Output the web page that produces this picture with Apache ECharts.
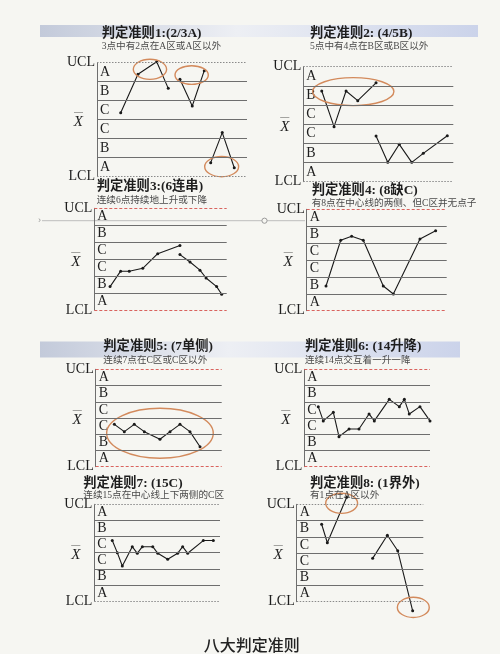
<!DOCTYPE html>
<html><head><meta charset="utf-8">
<script src="https://cdn.jsdelivr.net/npm/echarts@6/dist/echarts.min.js"></script>
<style>html,body{margin:0;padding:0;background:#f6f6f2;}#c{width:500px;height:654px;}</style>
</head><body><div id="c"></div>
<script>
// ---- data ----
const zoneNames = ['A', 'B', 'C', 'C', 'B', 'A'];           // bands from top (UCL) to bottom (LCL)
const zoneBounds = [3, 2, 1, 0, -1, -2, -3];                 // sigma boundaries
const limitTicks = { '3': 'UCL', '0': 'XBAR', '-3': 'LCL' };
const titles = ['判定准则1:(2/3A)', '判定准则2: (4/5B)', '判定准则3:(6连串)', '判定准则4: (8缺C)',
  '判定准则5: (7单侧)', '判定准则6: (14升降)', '判定准则7: (15C)', '判定准则8: (1界外)'];
const subtitles = ['3点中有2点在A区或A区以外', '5点中有4点在B区或B区以外', '连续6点持续地上升或下降',
  '有8点在中心线的两侧、但C区并无点子', '连续7点在C区或C区以外', '连续14点交互着一升一降',
  '连续15点在中心线上下两侧的C区', '有1点在A区以外'];
const footer = '八大判定准则';

// series values: [sample position, sigma] per segment
const rule1 = [[[1.58, 0.37], [2.73, 2.39], [3.98, 3.05], [4.75, 1.65]],
  [[5.53, 2.13], [6.35, 0.72], [7.15, 2.58]],
  [[7.58, -2.26], [8.35, -0.68], [9.15, -2.53]]];
const rule2 = [[[1.23, 1.73], [2.05, -0.13], [2.85, 1.73], [3.63, 1.23], [4.85, 2.16]],
  [[4.85, -0.62], [5.63, -1.99], [6.4, -1.05], [7.23, -1.99], [8.0, -1.52], [9.6, -0.6]]];
const rule3 = [[[1.19, -1.62], [1.99, -0.71], [2.64, -0.71], [3.66, -0.54], [4.79, 0.32], [6.47, 0.8]],
  [[6.47, 0.27], [7.23, -0.17], [7.98, -0.65], [8.44, -1.11], [9.24, -1.62], [9.62, -2.07]]];
const rule4 = [[[1.38, -1.54], [2.43, 1.17], [3.21, 1.4], [4.04, 1.17], [5.47, -1.54], [6.19, -2.01], [8.09, 1.24], [9.21, 1.73]]];
const rule5 = [[[1.48, -0.39], [2.27, -0.84], [3.06, -0.39], [3.86, -0.84], [5.1, -1.31], [5.9, -0.84], [6.69, -0.39], [7.48, -0.84], [8.28, -1.77]]];
const rule6 = [[[1.11, 0.7], [1.51, -0.18], [2.31, 0.35], [2.76, -1.15], [3.56, -0.68], [4.35, -0.68], [5.15, 0.25],
  [5.57, -0.18], [6.76, 1.15], [7.56, 0.7], [7.96, 1.15], [8.35, 0.25], [9.2, 0.7], [10, -0.18]]];
const rule7 = [[[1.43, 0.75], [1.83, 0], [2.23, -0.83], [3.02, 0.37], [3.42, -0.04], [3.82, 0.37], [4.65, 0.37],
  [5.05, -0.04], [5.84, -0.41], [6.63, -0.04], [7.03, 0.37], [7.43, -0.04], [8.67, 0.75], [9.47, 0.75]]];
const rule8 = [[[1.97, 1.77], [2.42, 0.63], [3.95, 3.43]],
  [[6.0, -0.33], [7.16, 1.09], [7.98, 0.14], [9.16, -3.56]]];
const allRules = [rule1, rule2, rule3, rule4, rule5, rule6, rule7, rule8];

// highlighted groups: [center x, center sigma, radius x, radius sigma]
const circles = [
  [[3.53, 2.65, 1.11, 0.53], [6.31, 2.35, 1.11, 0.49], [8.31, -2.47, 1.13, 0.53]],
  [[3.33, 1.70, 2.71, 0.73]],
  [], [],
  [[5.10, -0.94, 4.23, 1.54]],
  [], [],
  [[3.55, 3.06, 1.26, 0.62], [9.21, -3.35, 1.26, 0.62]]
];

// ---- layout (px) ----
const grids = [
  [97, 62.7, 150, 114], [303.3, 66.7, 150, 115],
  [94.3, 208.3, 132.4, 101.7], [306.7, 209.3, 140, 101.4],
  [95.7, 369.3, 126, 97.4], [304.3, 369.3, 125.7, 97.4],
  [94.3, 504.3, 125.7, 96.7], [296.7, 504.3, 126.6, 97.4]
];
const limitRed = [false, false, true, true, true, true, false, false];
const titlePos = [[101.7, 34, 46.7], [310, 34, 46.7], [96.7, 186.7, 200.7], [311.7, 191, 203.3],
  [103.3, 346.7, 360], [305, 346.7, 360], [83.3, 484, 495], [310, 483.3, 495]];

const serif = "'Liberation Serif', 'Times New Roman', serif";
const titleFont = "'Liberation Serif', 'Noto Sans CJK SC', serif";

const option = {
  backgroundColor: '#f6f6f2',
  animation: false,
  grid: [], xAxis: [], yAxis: [], series: [],
  graphic: []
};

// header bands and decoration
option.graphic.push({ type: 'rect', z: 0, shape: { x: 40, y: 25, width: 438, height: 12 },
  style: { fill: new echarts.graphic.LinearGradient(0, 0, 1, 0, [{ offset: 0, color: '#c3cada' }, { offset: 0.45, color: '#edeff4' }, { offset: 1, color: '#cbd3ea' }]) } });
option.graphic.push({ type: 'rect', z: 0, shape: { x: 40, y: 341.5, width: 420, height: 16 },
  style: { fill: new echarts.graphic.LinearGradient(0, 0, 1, 0, [{ offset: 0, color: '#c3cada' }, { offset: 0.45, color: '#edeff4' }, { offset: 1, color: '#cbd3ea' }]) } });
option.graphic.push({ type: 'line', z: 0, shape: { x1: 42, y1: 220.7, x2: 305, y2: 220.7 }, style: { stroke: '#bdbdbd', lineWidth: 1 } });
option.graphic.push({ type: 'circle', z: 1, shape: { cx: 264.5, cy: 220.7, r: 2.6 }, style: { fill: '#f6f6f2', stroke: '#9a9a9a', lineWidth: 1 } });
option.graphic.push({ type: 'text', z: 1, x: 38, y: 220.7, style: { text: '›', fill: '#999', font: '9px sans-serif', textVerticalAlign: 'middle' } });

grids.forEach((g, i) => {
  option.grid.push({ left: g[0], top: g[1], width: g[2], height: g[3] });
  option.xAxis.push({ type: 'value', gridIndex: i, min: 0, max: 10, show: false });
  option.yAxis.push({
    type: 'value', gridIndex: i, min: -3, max: 3, interval: 1,
    axisLine: { show: true, lineStyle: { color: '#6e6e6e', width: 1 } },
    axisTick: { show: false }, splitLine: { show: false },
    axisLabel: {
      margin: 2, color: '#1e1e1e', fontFamily: serif, fontSize: 14,
      formatter: v => {
        const t = limitTicks[String(v)];
        if (!t) return '';
        if (t === 'XBAR') return '{o|—}\n{x|X}';
        return t;
      },
      rich: {
        o: { fontSize: 9, lineHeight: 5, padding: [0, 12, 0, 0], color: '#333', fontFamily: serif },
        x: { fontSize: 15, lineHeight: 16, fontStyle: 'italic', padding: [0, 12, 0, 0], color: '#1e1e1e', fontFamily: serif }
      }
    }
  });
  const limitStyle = limitRed[i]
    ? { color: '#d9635e', type: [3, 2], width: 1 }
    : { color: '#8a8a8a', type: [1.5, 1.5], width: 1 };
  const markLineData = zoneBounds.map(b => ({
    yAxis: b,
    lineStyle: (b === 3 || b === -3) ? limitStyle : { color: '#6e6e6e', type: 'solid', width: 1 }
  }));
  const markAreaData = zoneNames.map((n, k) => [{ yAxis: zoneBounds[k + 1], name: n }, { yAxis: zoneBounds[k] }]);
  allRules[i].forEach((seg, s) => {
    const ser = {
      type: 'line', xAxisIndex: i, yAxisIndex: i, data: seg, clip: false,
      symbol: 'circle', symbolSize: 3, showSymbol: true,
      lineStyle: { color: '#1a1a1a', width: 1.1 }, itemStyle: { color: '#1a1a1a' },
      z: 3, silent: true
    };
    if (s === 0) {
      ser.markLine = { silent: true, symbol: 'none', label: { show: false }, data: markLineData, animation: false };
      ser.markArea = {
        silent: true, itemStyle: { color: 'rgba(0,0,0,0)' },
        label: { show: true, position: 'insideLeft', distance: 3, color: '#1e1e1e', fontFamily: serif, fontSize: 14 },
        data: markAreaData
      };
    }
    option.series.push(ser);
  });
  if (circles[i].length) {
    option.series.push({
      type: 'custom', xAxisIndex: i, yAxisIndex: i, data: circles[i], clip: false, silent: true, z: 4,
      renderItem: (params, api) => {
        const c = api.coord([api.value(0), api.value(1)]);
        const s = api.size([api.value(2), api.value(3)]);
        return { type: 'ellipse', shape: { cx: c[0], cy: c[1], rx: s[0], ry: s[1] },
          style: { fill: 'none', stroke: '#d38a5c', lineWidth: 1.4 } };
      }
    });
  }
  const tp = titlePos[i];
  option.graphic.push({ type: 'text', z: 5, x: tp[0], y: tp[1],
    style: { text: titles[i], font: 'bold 13.3px ' + titleFont, fill: '#1e1e1e', textVerticalAlign: 'middle' } });
  option.graphic.push({ type: 'text', z: 5, x: tp[0], y: tp[2],
    style: { text: subtitles[i], font: '9.6px ' + titleFont, fill: '#4a4a4a', textVerticalAlign: 'middle' } });
});

option.graphic.push({ type: 'text', z: 5, x: 251.7, y: 645,
  style: { text: footer, font: '500 16px "Noto Sans CJK SC", sans-serif', fill: '#222', textAlign: 'center', textVerticalAlign: 'middle' } });

const chart = echarts.init(document.getElementById('c'), null, { renderer: 'canvas' });
chart.setOption(option);
</script></body></html>
